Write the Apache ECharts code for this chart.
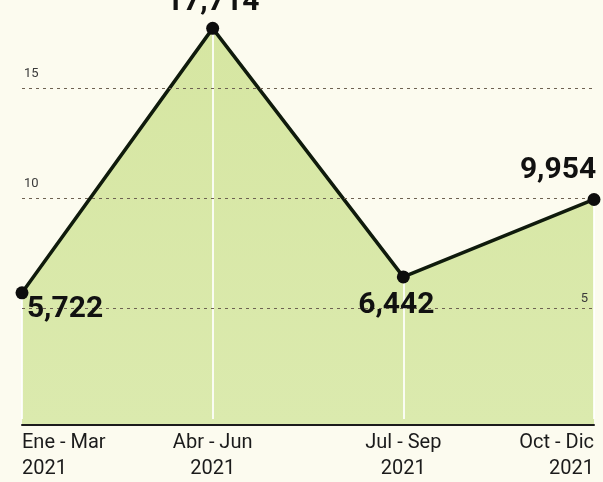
<!DOCTYPE html>
<html>
<head>
<meta charset="utf-8">
<script src="https://cdn.jsdelivr.net/npm/echarts@6/dist/echarts.min.js"></script>
<style>
  html, body { margin: 0; padding: 0; background: #fcfbef; }
  #chart { width: 603px; height: 482px; }
</style>
</head>
<body>
<div id="chart"></div>
<script>
// data (millions)
const periods = ["Ene - Mar\n2021", "Abr - Jun\n2021", "Jul - Sep\n2021", "Oct - Dic\n2021"];
const values = [5.722, 17.714, 6.442, 9.954];
const leftTicks = [10, 15];
const rightTicks = [5];

// where each value label sits relative to its dot
const labelOffsets = [[43, 17], [0, -26], [-7, 29], [-36, -29]];

const fmt = v => v.toFixed(3).replace(".", ",");

const chart = echarts.init(document.getElementById("chart"));

const yBase = {
  type: "value",
  min: 0,
  max: 19,
  interval: 5,
  z: 10,
  axisLine: { show: false },
  axisTick: { show: false }
};

const option = {
  backgroundColor: "#fcfbef",
  animation: false,
  grid: { left: 22, right: 9, top: 0, bottom: 61 },
  xAxis: {
    type: "category",
    boundaryGap: false,
    data: periods,
    offset: 6,
    z: 10,
    axisTick: { show: false },
    axisLine: { onZero: false, lineStyle: { color: "#1b1b1b", width: 2 } },
    splitLine: { show: false },
    axisLabel: {
      margin: 5,
      color: "#1b1b1b",
      fontFamily: "Roboto, sans-serif",
      fontSize: 20,
      lineHeight: 26,
      alignMinLabel: "left",
      alignMaxLabel: "right"
    }
  },
  yAxis: [
    Object.assign({}, yBase, {
      position: "left",
      splitLine: {
        show: true,
        showMinLine: false,
        showMaxLine: false,
        lineStyle: { color: "#6e6252", type: [3, 4], width: 1 }
      },
      axisLabel: {
        inside: true,
        margin: 2,
        verticalAlign: "bottom",
        padding: [0, 0, 8, 0],
        color: "#3a3a3a",
        fontFamily: "Roboto, sans-serif",
        fontSize: 13,
        formatter: v => (leftTicks.includes(v) ? String(v) : "")
      }
    }),
    Object.assign({}, yBase, {
      position: "right",
      splitLine: { show: false },
      axisLabel: {
        inside: true,
        margin: 6,
        verticalAlign: "bottom",
        padding: [0, 0, 3, 0],
        color: "#3a3a3a",
        fontFamily: "Roboto, sans-serif",
        fontSize: 13,
        formatter: v => (rightTicks.includes(v) ? String(v) : "")
      }
    })
  ],
  series: [
    {
      // filled area, line and the white drop lines
      type: "line",
      yAxisIndex: 0,
      clip: false,
      data: values,
      showSymbol: false,
      lineStyle: { color: "#0f1a0c", width: 3.5 },
      areaStyle: {
        opacity: 1,
        origin: -0.27,
        color: new echarts.graphic.LinearGradient(0, 0, 0, 1, [
          { offset: 0, color: "#d6e6a2" },
          { offset: 1, color: "#dbeaae" }
        ])
      },
      markLine: {
        silent: true,
        symbol: "none",
        label: { show: false },
        lineStyle: { color: "#ffffff", width: 2, type: "solid", opacity: 0.85 },
        data: values.map((v, i) => [
          { coord: [periods[i], v] },
          { coord: [periods[i], 0] }
        ])
      }
    },
    {
      // dots and value labels on top of everything
      type: "line",
      yAxisIndex: 0,
      z: 20,
      clip: false,
      data: values.map((v, i) => ({
        value: v,
        label: { offset: labelOffsets[i] }
      })),
      symbol: "circle",
      symbolSize: 13,
      itemStyle: { color: "#0d0d0d" },
      lineStyle: { width: 0, opacity: 0 },
      label: {
        show: true,
        position: "inside",
        color: "#111",
        fontFamily: "Roboto, sans-serif",
        fontWeight: "bold",
        fontSize: 30,
        formatter: p => fmt(p.value)
      }
    }
  ]
};

chart.setOption(option);
</script>
</body>
</html>
